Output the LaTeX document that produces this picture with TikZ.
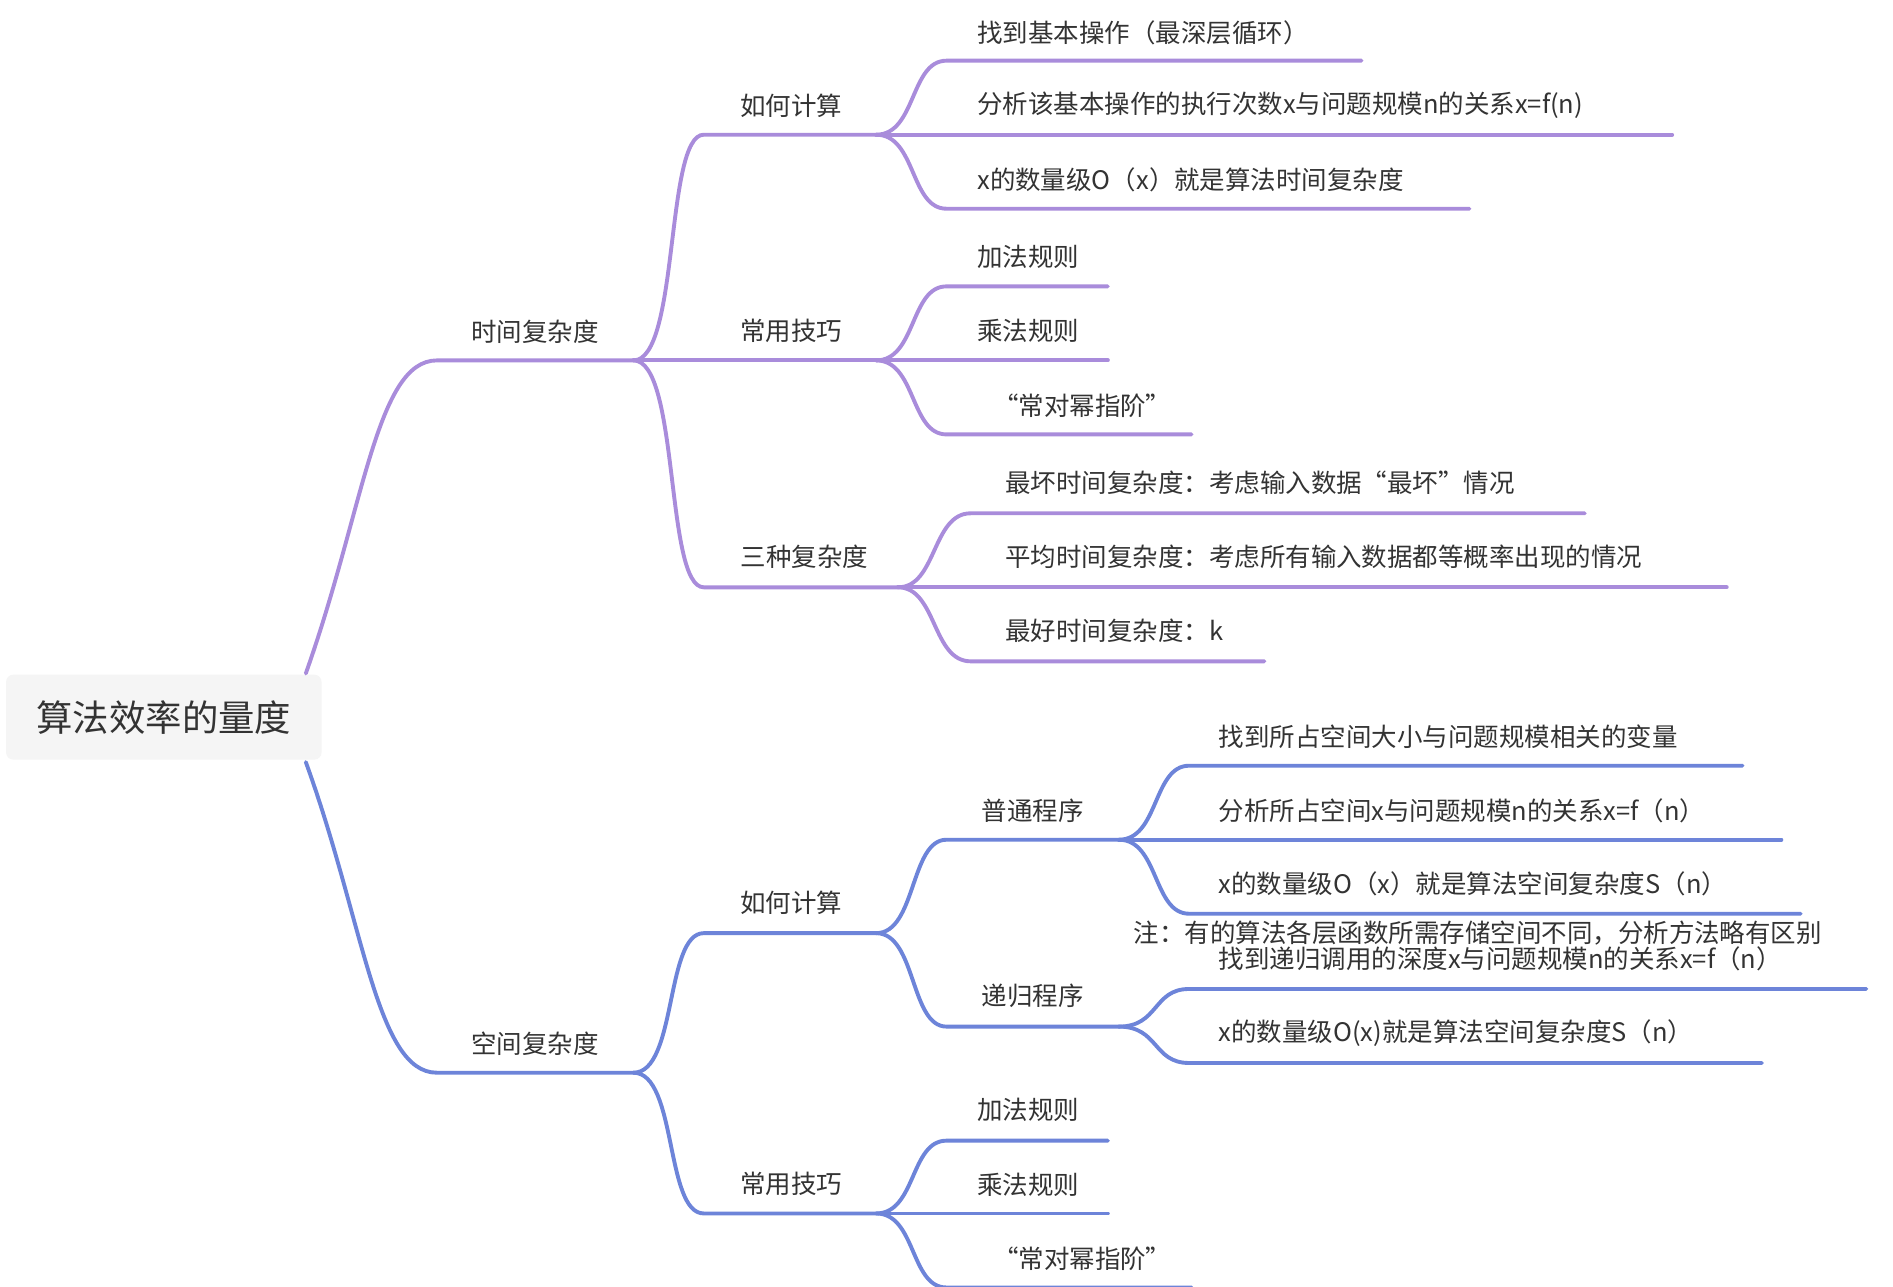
\documentclass[tikz,border=0pt]{standalone}
\usepackage{fontspec}
\setmainfont{Noto Sans CJK SC}
\begin{document}
\begin{tikzpicture}[x=0.5pt,y=-0.5pt,
 pe/.style={draw=purp,line width=1.6pt,line cap=round},
 be/.style={draw=blu,line width=1.6pt,line cap=round},
 lab/.style={text=txt,font=\fontsize{10.5}{12}\selectfont,inner sep=0pt},
 lw/.style={lab,anchor=west}]
\definecolor{purp}{HTML}{A98CDB}
\definecolor{blu}{HTML}{6D84D9}
\definecolor{txt}{HTML}{333333}
\useasboundingbox[fill=white] (0,0) rectangle (1560,1060);
% root
\node[fill=black!4,rounded corners=3pt,minimum width=130pt,minimum height=35pt,text=txt,font=\fontsize{15}{17}\selectfont] (root) at (135,591) {算法效率的量度};
\coordinate (rt) at (252,555); \coordinate (rb) at (252,628);
% ---------- time
\coordinate (T0) at (360,297); \coordinate (T1) at (522,297);
\node[lab] (tl) at (441,273) {时间复杂度};
\draw[pe] (rt) .. controls (300,420) and (310,297) .. (T0) -- (T1);
% level2
\coordinate (A0) at (580,111); \coordinate (A1) at (722,111); \node[lab] (al) at (652,87) {如何计算};
\coordinate (B0) at (580,297); \coordinate (B1) at (722,297); \node[lab] (bl) at (652,273) {常用技巧};
\coordinate (C0) at (580,484); \coordinate (C1) at (740,484); \node[lab] (cl) at (663,459) {三种复杂度};
\draw[pe] (T1) .. controls (560,297) and (548,111) .. (A0) -- (A1);
\draw[pe] (T1) -- (B1);
\draw[pe] (T1) .. controls (560,297) and (548,484) .. (C0) -- (C1);
% level3 under A
\coordinate (a10) at (780,50); \coordinate (a11) at (1122,50); \node[lw] (a1) at (805,27) {找到基本操作（最深层循环）};
\coordinate (a20) at (780,111); \coordinate (a21) at (1378,111); \node[lw] (a2) at (805,87) {分析该基本操作的执行次数x与问题规模n的关系x=f(n)};
\coordinate (a30) at (780,172); \coordinate (a31) at (1211,172); \node[lw] (a3) at (805,148) {x的数量级O（x）就是算法时间复杂度};
\draw[pe] (A1) .. controls (755,111) and (750,50) .. (a10) -- (a11);
\draw[pe] (A1) -- (a21);
\draw[pe] (A1) .. controls (755,111) and (750,172) .. (a30) -- (a31);
% under B
\coordinate (b10) at (780,236); \coordinate (b11) at (913,236); \node[lw] (b1) at (805,212) {加法规则};
\coordinate (b20) at (780,297); \coordinate (b21) at (913,297); \node[lw] (b2) at (805,273) {乘法规则};
\coordinate (b30) at (780,358); \coordinate (b31) at (982,358); \node[lw] (b3) at (818,334) {“常对幂指阶”};
\draw[pe] (B1) .. controls (755,297) and (750,236) .. (b10) -- (b11);
\draw[pe] (B1) -- (b21);
\draw[pe] (B1) .. controls (755,297) and (750,358) .. (b30) -- (b31);
% under C
\coordinate (c10) at (800,423); \coordinate (c11) at (1306,423); \node[lw] (c1) at (828,398) {最坏时间复杂度：考虑输入数据“最坏”情况};
\coordinate (c20) at (800,484); \coordinate (c21) at (1423,484); \node[lw] (c2) at (828,459) {平均时间复杂度：考虑所有输入数据都等概率出现的情况};
\coordinate (c30) at (800,545); \coordinate (c31) at (1042,545); \node[lw] (c3) at (828,520) {最好时间复杂度：k};
\draw[pe] (C1) .. controls (772,484) and (768,423) .. (c10) -- (c11);
\draw[pe] (C1) -- (c21);
\draw[pe] (C1) .. controls (772,484) and (768,545) .. (c30) -- (c31);
% ---------- space
\coordinate (S0) at (360,884); \coordinate (S1) at (522,884);
\node[lab] (sl) at (441,860) {空间复杂度};
\draw[be] (rb) .. controls (300,760) and (310,884) .. (S0) -- (S1);
\coordinate (D0) at (580,769); \coordinate (D1) at (722,769); \node[lab] (dl) at (652,744) {如何计算};
\coordinate (E0) at (580,1000); \coordinate (E1) at (722,1000); \node[lab] (el) at (652,976) {常用技巧};
\draw[be] (S1) .. controls (558,884) and (548,769) .. (D0) -- (D1);
\draw[be] (S1) .. controls (558,884) and (548,1000) .. (E0) -- (E1);
\coordinate (F0) at (780,692); \coordinate (F1) at (922,692); \node[lab] (fl) at (851,668) {普通程序};
\coordinate (G0) at (780,846); \coordinate (G1) at (922,846); \node[lab] (gl) at (851,821) {递归程序};
\draw[be] (D1) .. controls (755,769) and (750,692) .. (F0) -- (F1);
\draw[be] (D1) .. controls (755,769) and (750,846) .. (G0) -- (G1);
% under F
\coordinate (f10) at (980,631); \coordinate (f11) at (1436,631); \node[lw] (f1) at (1004,607) {找到所占空间大小与问题规模相关的变量};
\coordinate (f20) at (980,692); \coordinate (f21) at (1468,692); \node[lw] (f2) at (1004,668) {分析所占空间x与问题规模n的关系x=f（n）};
\coordinate (f30) at (980,753); \coordinate (f31) at (1484,753); \node[lw] (f3) at (1004,728) {x的数量级O（x）就是算法空间复杂度S（n）};
\draw[be] (F1) .. controls (955,692) and (950,631) .. (f10) -- (f11);
\draw[be] (F1) -- (f21);
\draw[be] (F1) .. controls (955,692) and (950,753) .. (f30) -- (f31);
\node[lw] (note) at (934,769) {注：有的算法各层函数所需存储空间不同，分析方法略有区别};
% under G
\coordinate (g10) at (980,815); \coordinate (g11) at (1538,815); \node[lw] (g1) at (1004,790) {找到递归调用的深度x与问题规模n的关系x=f（n）};
\coordinate (g20) at (980,876); \coordinate (g21) at (1452,876); \node[lw] (g2) at (1004,851) {x的数量级O(x)就是算法空间复杂度S（n）};
\draw[be] (G1) .. controls (955,846) and (950,815) .. (g10) -- (g11);
\draw[be] (G1) .. controls (955,846) and (950,876) .. (g20) -- (g21);
% under E
\coordinate (e10) at (780,940); \coordinate (e11) at (913,940); \node[lw] (e1) at (805,915) {加法规则};
\coordinate (e20) at (780,1000); \coordinate (e21) at (913,1000); \node[lw] (e2) at (805,976) {乘法规则};
\coordinate (e30) at (780,1061); \coordinate (e31) at (982,1061); \node[lw] (e3) at (818,1037) {“常对幂指阶”};
\draw[be] (E1) .. controls (755,1000) and (750,940) .. (e10) -- (e11);
\draw[be] (E1) -- (e21);
\draw[be] (E1) .. controls (755,1000) and (750,1061) .. (e30) -- (e31);
\end{tikzpicture}
\end{document}
